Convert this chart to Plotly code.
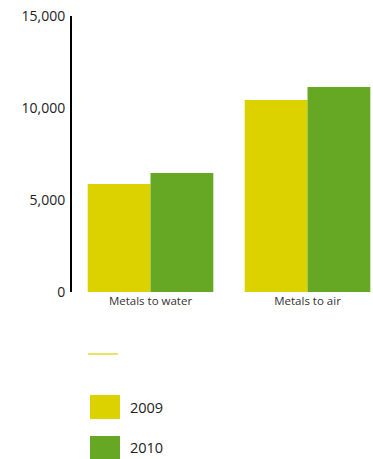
import plotly.graph_objects as go

categories = ["Metals to water", "Metals to air"]
years = ["2009", "2010"]
values_2009 = [5870, 10430]
values_2010 = [6470, 11140]
colors = {"2009": "#dcd200", "2010": "#66a823"}
y_ticks = [0, 5000, 10000, 15000]
y_tick_text = ["0", "5,000", "10,000", "15,000"]

FONT = "Open Sans, Noto Sans, sans-serif"

fig = go.Figure()
for year, vals in zip(years, [values_2009, values_2010]):
    fig.add_trace(go.Bar(x=categories, y=vals, name=year,
                         marker=dict(color=colors[year], line=dict(width=0)),
                         showlegend=False))

fig.update_layout(
    width=373, height=459,
    margin=dict(l=72, r=0, t=16, b=167),
    paper_bgcolor="white", plot_bgcolor="white",
    barmode="group", bargap=0.2, bargroupgap=0,
    font=dict(family=FONT, color="#222222"),
    xaxis=dict(range=[-0.5, 1.417], showline=False, showgrid=False,
               ticks="", tickfont=dict(size=11.5, color="#333333"),
               zeroline=False),
    yaxis=dict(range=[0, 15000], tickvals=y_ticks, ticktext=y_tick_text,
               showline=True, linecolor="black", linewidth=2,
               showgrid=False, zeroline=False, ticks="",
               tickfont=dict(size=14, color="#222222"), ticklabelstandoff=2),
)

# Hand-built legend below the plot
fig.add_shape(type="line", xref="paper", yref="paper",
              x0=(88 - 72) / 301, x1=(118 - 72) / 301,
              y0=(459 - 354 - 167) / 276, y1=(459 - 354 - 167) / 276,
              line=dict(color=colors["2009"], width=1.2))
legend_rows = [("2009", 407), ("2010", 448)]
for year, yc in legend_rows:
    fig.add_shape(type="rect", xref="paper", yref="paper",
                  x0=(90 - 72) / 301, x1=(120 - 72) / 301,
                  y0=(459 - (yc + 12) - 167) / 276, y1=(459 - (yc - 12) - 167) / 276,
                  fillcolor=colors[year], line=dict(width=0))
    fig.add_annotation(xref="paper", yref="paper",
                       x=(128 - 72) / 301, y=(459 - yc - 167) / 276,
                       text=year, showarrow=False, xanchor="left", yanchor="middle",
                       font=dict(size=14.5, color="#222222", family=FONT))

fig.write_html("out.html")
